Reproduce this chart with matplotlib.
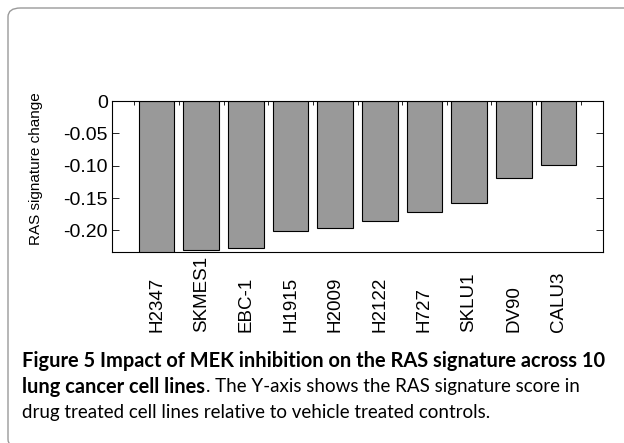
import matplotlib
matplotlib.use("Agg")
import matplotlib.pyplot as plt
from matplotlib.patches import FancyBboxPatch
from matplotlib import transforms

cell_lines = ['H2347', 'SKMES1', 'EBC-1', 'H1915', 'H2009',
              'H2122', 'H727', 'SKLU1', 'DV90', 'CALU3']
ras_change = [-0.240, -0.231, -0.228, -0.201, -0.1965,
              -0.186, -0.172, -0.158, -0.119, -0.0985]
y_ticks = [0, -0.05, -0.10, -0.15, -0.20]
y_tick_labels = ['0', '-0.05', '-0.10', '-0.15', '-0.20']

caption_bold_1 = 'Figure 5 Impact of MEK inhibition on the RAS signature across 10'
caption_bold_2 = 'lung cancer cell lines'
caption_rest_2 = '. The Y-axis shows the RAS signature score in'
caption_line_3 = 'drug treated cell lines relative to vehicle treated controls.'

W, H = 624, 443
fig = plt.figure(figsize=(W / 100, H / 100), dpi=100)

# rounded frame around the figure panel
frame = FancyBboxPatch((8 / W, 1 - 448 / H), 640 / W, 440 / H,
                       boxstyle="round,pad=0,rounding_size=0.02",
                       transform=fig.transFigure, facecolor='none',
                       edgecolor='#9a9a9a', linewidth=1.0, clip_on=False)
fig.patches.append(frame)

ax = fig.add_axes([112 / W, 1 - 252 / H, 491 / W, 151 / H])
x = list(range(1, len(cell_lines) + 1))
ax.bar(x, ras_change, width=0.8, color='#999999', edgecolor='black', linewidth=0.8)
ax.set_xlim(0, 11)
ax.set_ylim(-0.2335, 0)

ax.set_xticks([i + 0.5 for i in range(0, 11)])
ax.set_xticklabels([])
ax.tick_params(axis='x', which='both', bottom=False, top=True, direction='in', length=3, width=0.6)
ax.set_yticks(y_ticks)
ax.set_yticklabels(y_tick_labels, fontsize=14, family='Liberation Sans')
ax.tick_params(axis='y', left=True, right=True, direction='in', length=5, width=0.6, pad=3)
for s in ax.spines.values():
    s.set_linewidth(0.8)

ax.set_ylabel('RAS signature change', fontsize=11, family='Liberation Sans')
ax.yaxis.set_label_coords(-0.140, 0.55)

# cell line names, rotated, bottoms aligned under the axes
trans = transforms.blended_transform_factory(ax.transData, ax.transAxes)
for xi, name in zip(x, cell_lines):
    ax.text(xi, -0.53, name, rotation=90, ha='center', va='bottom',
            fontsize=13.5, family='Liberation Sans', transform=trans)

cap_font = 'Lato'
bold_size = 14.4
reg_size = 13.5
fig.text(22 / W, 1 - 367 / H, caption_bold_1, fontsize=bold_size, family=cap_font,
         fontweight='bold', va='baseline', ha='left')
t2 = fig.text(22 / W, 1 - 393 / H, caption_bold_2, fontsize=bold_size, family=cap_font,
              fontweight='bold', va='baseline', ha='left')
# regular part right after the bold part, on the same baseline
ax.annotate(caption_rest_2, xy=(1, 0), xycoords=t2, xytext=(1, 3.5),
            textcoords='offset points', va='baseline', ha='left',
            fontsize=reg_size, family=cap_font, annotation_clip=False)
fig.text(22 / W, 1 - 418 / H, caption_line_3, fontsize=reg_size, family=cap_font,
         va='baseline', ha='left')

fig.savefig('out.png', dpi=100)
